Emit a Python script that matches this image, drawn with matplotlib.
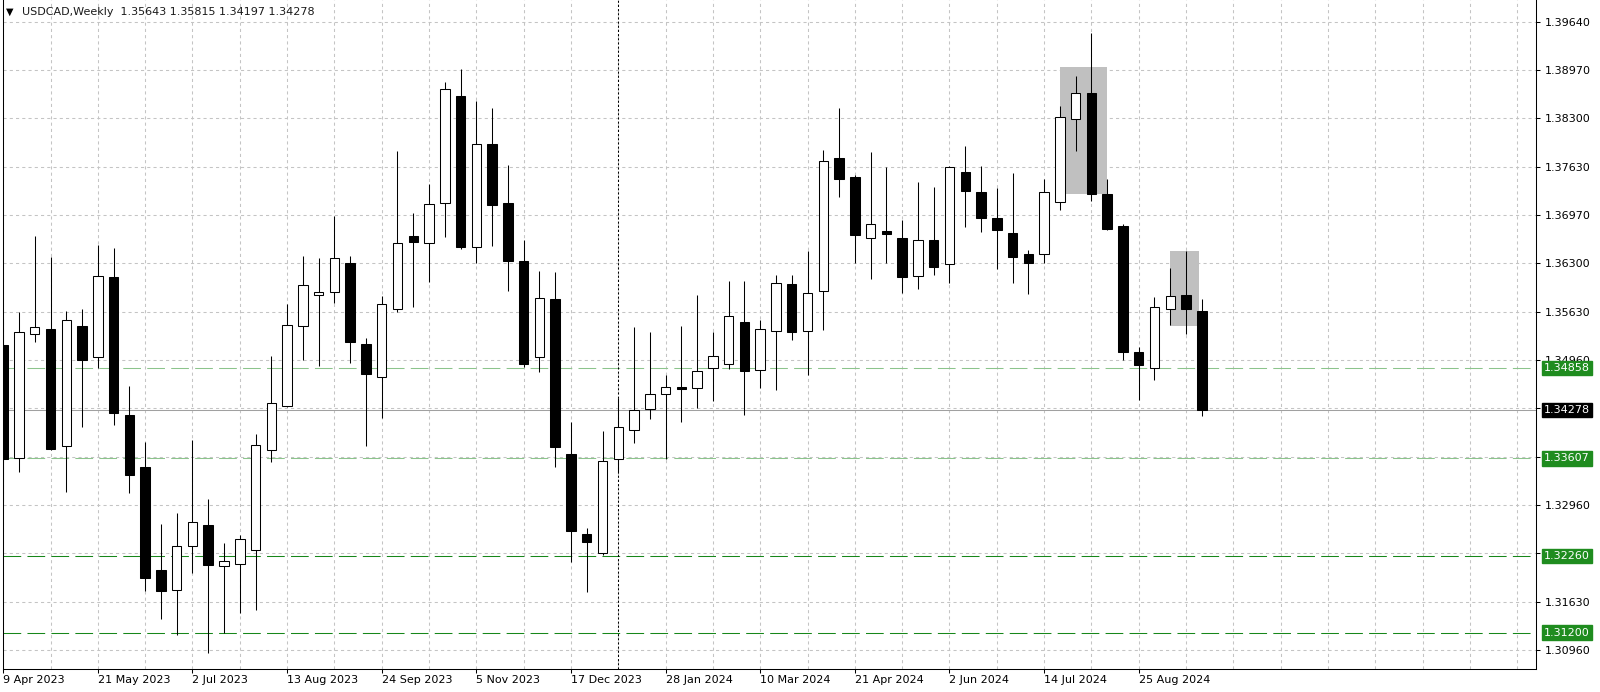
import matplotlib
matplotlib.use("Agg")
import matplotlib.pyplot as plt
import matplotlib.transforms as mtransforms
from matplotlib.patches import Rectangle
import pandas as pd

# ---------------- data ----------------
symbol = "USDCAD"
timeframe = "Weekly"
start_date = "2023-04-09"

opens = [1.35174, 1.33617, 1.35321, 1.35390, 1.33778, 1.35440, 1.35004, 1.36113, 1.34207, 1.33484,
         1.32065, 1.31793, 1.32393, 1.32687, 1.32116, 1.32144, 1.32336, 1.33729, 1.34325, 1.35436,
         1.35859, 1.35904, 1.36313, 1.35183, 1.34730, 1.35676, 1.36679, 1.36584, 1.37142, 1.38618,
         1.36530, 1.37946, 1.37142, 1.36338, 1.35006, 1.35811, 1.33673, 1.32564, 1.32301, 1.33595,
         1.33999, 1.34285, 1.34493, 1.34589, 1.34575, 1.34860, 1.34907, 1.35496, 1.34828, 1.35371,
         1.36012, 1.35371, 1.35920, 1.37753, 1.37499, 1.36648, 1.36753, 1.36656, 1.36131, 1.36624,
         1.36288, 1.37568, 1.37291, 1.36924, 1.36721, 1.36431, 1.36431, 1.37145, 1.38300, 1.38659,
         1.37256, 1.36818, 1.35073, 1.34852, 1.35675, 1.35864, 1.35643]
highs = [1.35533, 1.35634, 1.36684, 1.36393, 1.35647, 1.35675, 1.36555, 1.36510, 1.34611, 1.33838,
         1.32697, 1.32857, 1.33861, 1.33046, 1.32434, 1.32549, 1.33944, 1.35026, 1.35746, 1.36407,
         1.36382, 1.36950, 1.36398, 1.35277, 1.35845, 1.37854, 1.37004, 1.37399, 1.38806, 1.38988,
         1.38543, 1.38445, 1.37655, 1.36619, 1.36200, 1.36181, 1.34103, 1.32652, 1.33984, 1.34437,
         1.35418, 1.35349, 1.34759, 1.35440, 1.35864, 1.35357, 1.36058, 1.36058, 1.35519, 1.36141,
         1.36141, 1.36476, 1.37868, 1.38452, 1.37522, 1.37844, 1.37629, 1.36900, 1.37430, 1.37352,
         1.37646, 1.37923, 1.37646, 1.37347, 1.37554, 1.36486, 1.37467, 1.38480, 1.38894, 1.39480,
         1.37467, 1.36845, 1.35150, 1.35833, 1.36233, 1.36476, 1.35815]
lows = [1.33009, 1.33423, 1.35219, 1.33723, 1.33147, 1.34037, 1.34852, 1.34068, 1.33125, 1.31779,
        1.31384, 1.31163, 1.32028, 1.30923, 1.31191, 1.31467, 1.31506, 1.33560, 1.34317, 1.34966,
        1.34883, 1.35755, 1.34926, 1.33782, 1.34162, 1.35623, 1.35697, 1.36043, 1.36668, 1.36500,
        1.36304, 1.36536, 1.35918, 1.34868, 1.34799, 1.33491, 1.32178, 1.31760, 1.32272, 1.33419,
        1.33824, 1.34147, 1.33595, 1.34114, 1.34299, 1.34404, 1.34842, 1.34207, 1.34575, 1.34552,
        1.35243, 1.34759, 1.35381, 1.37222, 1.36311, 1.36085, 1.36302, 1.35888, 1.35947, 1.36141,
        1.36026, 1.36800, 1.36730, 1.36224, 1.36026, 1.35874, 1.36311, 1.37039, 1.37858, 1.37167,
        1.36762, 1.34966, 1.34414, 1.34690, 1.35450, 1.35326, 1.34197]
closes = [1.33595, 1.35349, 1.35418, 1.33733, 1.35515, 1.34966, 1.36123, 1.34238, 1.33382, 1.31955,
          1.31779, 1.32393, 1.32732, 1.32130, 1.32185, 1.32489, 1.33798, 1.34370, 1.35444, 1.36003,
          1.35899, 1.36382, 1.35218, 1.34769, 1.35741, 1.36584, 1.36599, 1.37117, 1.38716, 1.36521,
          1.37946, 1.37113, 1.36333, 1.34907, 1.35824, 1.33767, 1.32603, 1.32451, 1.33566, 1.34037,
          1.34276, 1.34493, 1.34598, 1.34566, 1.34814, 1.35022, 1.35578, 1.34814, 1.35390, 1.36026,
          1.35357, 1.35888, 1.37716, 1.37467, 1.36693, 1.36841, 1.36707, 1.36117, 1.36624, 1.36255,
          1.37629, 1.37305, 1.36924, 1.36762, 1.36393, 1.36302, 1.37283, 1.38328, 1.38659, 1.37264,
          1.36772, 1.35073, 1.34897, 1.35703, 1.35851, 1.35675, 1.34278]

# horizontal support / resistance levels
levels = [1.34858, 1.33607, 1.32260, 1.31200]
level_colors = ["#8cc48c", "#8cc48c", "#17871a", "#17871a"]
label_green = "#1f8c1f"

# shaded zones (bar index start/end, price low/high)
zone_start = [67, 74]
zone_end = [70, 75.8]
zone_low = [1.37264, 1.35440]
zone_high = [1.39010, 1.36472]

# price axis ticks
ytick_values = [1.30960, 1.31628, 1.32295, 1.32963, 1.33631, 1.34298, 1.34966,
                1.35634, 1.36302, 1.36969, 1.37637, 1.38305, 1.38972, 1.39640]
ytick_labels = ["1.30960", "1.31630", "1.32290", "1.32960", "1.33620", "1.34290", "1.34960",
                "1.35630", "1.36300", "1.36970", "1.37630", "1.38300", "1.38970", "1.39640"]

y_min, y_max = 1.30704, 1.39940
x_min, x_max = -0.013, 97.19

# ---------------- figure ----------------
plt.rcParams["font.family"] = ["DejaVu Sans"]
plt.rcParams["font.size"] = 8

W, H = 1600, 692
fig = plt.figure(figsize=(W / 100, H / 100), dpi=100)
fig.patch.set_facecolor("white")
ax = fig.add_axes([3 / W, (H - 668.5) / H, (1536 - 3) / W, 668.5 / H])
ax.set_facecolor("white")

n = len(opens)
dates = pd.date_range(start_date, periods=n, freq="W-SUN")
x = list(range(n))
px = 0.75  # ~1 pixel in points

# wicks
ax.vlines(x, lows, highs, color="black", linewidth=px, zorder=3)
# bodies
bottoms = [min(o, c) for o, c in zip(opens, closes)]
heights = [abs(c - o) for o, c in zip(opens, closes)]
fills = ["white" if c >= o else "black" for o, c in zip(opens, closes)]
ax.bar(x, heights, bottom=bottoms, width=0.6, color=fills, edgecolor="black",
       linewidth=px, zorder=4)

# shaded zones
for xs, xe, lo, hi in zip(zone_start, zone_end, zone_low, zone_high):
    ax.add_patch(Rectangle((xs, lo), xe - xs, hi - lo, facecolor="#c0c0c0",
                           edgecolor="none", zorder=2))

# level lines
for lv, col in zip(levels, level_colors):
    ax.axhline(lv, color=col, linewidth=px, linestyle=(0, (17, 6)), zorder=1.5)

# bid line
last_close = closes[-1]
ax.axhline(last_close, color="#a0a0a0", linewidth=px, zorder=1.5)

# year separator (first bar of 2024)
sep_idx = [i for i, d in enumerate(dates) if d.year == 2024][0]
ax.axvline(sep_idx, color="black", linewidth=px, linestyle=(0, (2, 2)), zorder=1.6)

# axes limits
ax.set_xlim(x_min, x_max)
ax.set_ylim(y_min, y_max)

# x ticks: labels every 6 bars, grid every 3 bars
major = list(range(0, n, 6))
ax.set_xticks(major)
ax.set_xticklabels([f"{d.day} {d:%b %Y}" for d in dates[major]], ha="left")
ax.set_xticks(list(range(3, 97, 3)), minor=True)
ax.tick_params(axis="x", which="major", length=3, width=px, pad=1.5, colors="black")
ax.tick_params(axis="x", which="minor", length=0)

# y ticks
ax.yaxis.tick_right()
ax.set_yticks(ytick_values)
ax.set_yticklabels(ytick_labels)
ax.tick_params(axis="y", which="major", length=3, width=px, pad=3, colors="black")

ax.grid(which="both", color="#c4c4c4", linewidth=px, linestyle=(0, (3, 3)), zorder=0)
ax.set_axisbelow(True)

for s in ["left", "bottom", "right"]:
    ax.spines[s].set_linewidth(px)
    ax.spines[s].set_color("black")
ax.spines["top"].set_visible(False)

# right-side price boxes
trans = mtransforms.blended_transform_factory(ax.transAxes, ax.transData)
lx = (1544 - 3) / (1536 - 3)
for lv in levels:
    ax.text(lx, lv, f"{lv:.5f}", transform=trans, ha="left", va="center", color="white",
            fontsize=8, zorder=10, clip_on=False,
            bbox=dict(boxstyle="square,pad=0.2", facecolor=label_green, edgecolor=label_green))
ax.text(lx, last_close, f"{last_close:.5f}", transform=trans, ha="left", va="center",
        color="white", fontsize=8, zorder=11, clip_on=False,
        bbox=dict(boxstyle="square,pad=0.2", facecolor="black", edgecolor="black"))

# header
fig.text(6 / W, 1 - 12 / H, "\u25BC", fontsize=7, ha="left", va="center", color="black")
fig.text(22 / W, 1 - 12 / H,
         f"{symbol},{timeframe}  {opens[-1]:.5f} {highs[-1]:.5f} {lows[-1]:.5f} {closes[-1]:.5f}",
         fontsize=8, ha="left", va="center", color="#1a1a1a")

fig.savefig("out.png", dpi=100, facecolor="white")
